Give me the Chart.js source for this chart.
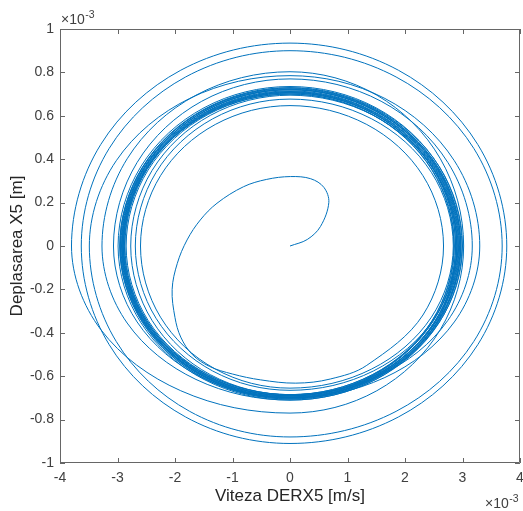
<!DOCTYPE html>
<html>
<head>
<meta charset="utf-8">
<title>Deplasarea X5</title>
<style>
  html, body { margin: 0; padding: 0; background: #ffffff; }
  #wrap { width: 523px; height: 511px; }
</style>
<script src="https://cdn.jsdelivr.net/npm/chart.js@4.4.0/dist/chart.umd.min.js"></script>
</head>
<body>
<div id="wrap"><canvas id="phase" width="523" height="511"></canvas></div>
<script>
// ─────────────────────────────────────────────────────────────
// DATA  (both axes in units of 1e-3)
// ─────────────────────────────────────────────────────────────
const xTicks = [-4, -3, -2, -1, 0, 1, 2, 3, 4];
const xTickLabels = ['-4', '-3', '-2', '-1', '0', '1', '2', '3', '4'];
const yTicks = [-1, -0.8, -0.6, -0.4, -0.2, 0, 0.2, 0.4, 0.6, 0.8, 1];
const yTickLabels = ['-1', '-0.8', '-0.6', '-0.4', '-0.2', '0', '0.2', '0.4', '0.6', '0.8', '1'];

// viteza DERX5 [m/s] x 1e-3
const vitezaX5 = [
  // pornire din repaus
  0, 0.30, 0.53, 0.675, 0.59, 0.36, 0.01, -0.405, -0.81, -1.27, -1.56, -1.79, -1.96, -2.05, -2.00, -1.90, -1.70, -1.40, -1.00, -0.51, 0.10, 0.70,
  1.335, 2.312, 2.67, 2.312, 1.335, 0, -1.30, -2.252, -2.60, -2.252, -1.30, 0,
  1.42, 2.459, 2.84, 2.459, 1.42, 0, -1.345, -2.33, -2.69, -2.33, -1.345, 0,
  1.45, 2.511, 2.90, 2.511, 1.45, 0, -1.385, -2.399, -2.77, -2.399, -1.385, 0,
  1.585, 2.745, 3.17, 2.745, 1.585, 0, -1.535, -2.659, -3.07, -2.659, -1.535, 0,
  1.65, 2.858, 3.30, 2.858, 1.65, 0, -1.745, -3.022, -3.49, -3.022, -1.745, 0,
  1.845, 3.196, 3.69, 3.196, 1.845, 0, -1.815, -3.144, -3.63, -3.144, -1.815, 0,
  1.885, 3.265, 3.77, 3.265, 1.885, 0, -1.90, -3.291, -3.80, -3.291, -1.90, 0,
  1.51, 2.615, 3.02, 2.615, 1.51, 0, -1.635, -2.832, -3.27, -2.832, -1.635, 0,
  // regim stabilizat
  1.495, 2.589, 2.99, 2.589, 1.495, 0, -1.495, -2.589, -2.99, -2.589, -1.495, 0,
  1.485, 2.572, 2.97, 2.572, 1.485, 0, -1.48, -2.563, -2.96, -2.563, -1.48, 0,
  1.475, 2.555, 2.95, 2.555, 1.475, 0, -1.47, -2.546, -2.94, -2.546, -1.47, 0,
  1.465, 2.537, 2.93, 2.537, 1.465, 0, -1.46, -2.529, -2.92, -2.529, -1.46, 0,
  1.455, 2.52, 2.91, 2.52, 1.455, 0, -1.45, -2.511, -2.90, -2.511, -1.45, 0,
  1.44, 2.494, 2.88, 2.494, 1.44, 0, -1.44, -2.494, -2.88, -2.494, -1.44, 0,
  1.43, 2.477, 2.86, 2.477, 1.43, 0, -1.45, -2.511, -2.90, -2.511, -1.45, 0,
  1.47, 2.546, 2.94, 2.546, 1.47, 0, -1.465, -2.537, -2.93, -2.537, -1.465, 0,
  1.50, 2.598, 3.00, 2.598, 1.50, 0, -1.48, -2.563, -2.96, -2.563, -1.48, 0,
  1.48, 2.563, 2.96, 2.563, 1.48, 0, -1.46, -2.529, -2.92, -2.529, -1.46, 0,
  1.45, 2.511, 2.90, 2.511, 1.45, 0, -1.435, -2.485, -2.87, -2.485, -1.435, 0,
  1.425, 2.468, 2.85, 2.468, 1.425, 0, -1.425, -2.468, -2.85, -2.468, -1.425, 0,
  1.44, 2.494, 2.88, 2.494, 1.44, 0, -1.445, -2.503, -2.89, -2.503, -1.445, 0,
  1.46, 2.529, 2.92, 2.529, 1.46, 0, -1.455, -2.52, -2.91, -2.52, -1.455, 0,
  1.485, 2.572, 2.97, 2.572, 1.485, 0, -1.475, -2.555, -2.95, -2.555, -1.475, 0,
  1.475, 2.555, 2.95
];

// deplasarea X5 [m] x 1e-3
const deplasareaX5 = [
  0, 0.03, 0.09, 0.20, 0.27, 0.31, 0.32, 0.307, 0.273, 0.197, 0.12, 0.028, -0.08, -0.20, -0.33, -0.42, -0.50, -0.555, -0.59, -0.617, -0.632, -0.613,
  -0.550, -0.318, 0, 0.324, 0.560, 0.647, 0.560, 0.324, 0, -0.328, -0.567, -0.655,
  -0.567, -0.328, 0, 0.339, 0.586, 0.677, 0.586, 0.339, 0, -0.333, -0.576, -0.665,
  -0.576, -0.333, 0, 0.348, 0.602, 0.695, 0.602, 0.348, 0, -0.343, -0.593, -0.685,
  -0.593, -0.343, 0, 0.385, 0.667, 0.77, 0.667, 0.385, 0, -0.35, -0.606, -0.70,
  -0.606, -0.35, 0, 0.393, 0.68, 0.785, 0.68, 0.393, 0, -0.44, -0.762, -0.88,
  -0.762, -0.44, 0, 0.45, 0.779, 0.90, 0.779, 0.45, 0, -0.455, -0.788, -0.91,
  -0.788, -0.455, 0, 0.468, 0.81, 0.935, 0.81, 0.468, 0, -0.385, -0.667, -0.77,
  -0.667, -0.385, 0, 0.402, 0.695, 0.803, 0.695, 0.402, 0, -0.355, -0.615, -0.71,
  -0.615, -0.355, 0, 0.368, 0.637, 0.735, 0.637, 0.368, 0, -0.355, -0.615, -0.71,
  -0.615, -0.355, 0, 0.363, 0.628, 0.725, 0.628, 0.363, 0, -0.353, -0.611, -0.705,
  -0.611, -0.353, 0, 0.36, 0.624, 0.72, 0.624, 0.36, 0, -0.35, -0.606, -0.70,
  -0.606, -0.35, 0, 0.358, 0.619, 0.715, 0.619, 0.358, 0, -0.348, -0.602, -0.695,
  -0.602, -0.348, 0, 0.355, 0.615, 0.71, 0.615, 0.355, 0, -0.345, -0.598, -0.69,
  -0.598, -0.345, 0, 0.353, 0.611, 0.705, 0.611, 0.353, 0, -0.343, -0.593, -0.685,
  -0.593, -0.343, 0, 0.35, 0.606, 0.70, 0.606, 0.35, 0, -0.345, -0.598, -0.69,
  -0.598, -0.345, 0, 0.36, 0.624, 0.72, 0.624, 0.36, 0, -0.35, -0.606, -0.70,
  -0.606, -0.35, 0, 0.365, 0.632, 0.73, 0.632, 0.365, 0, -0.353, -0.611, -0.705,
  -0.611, -0.353, 0, 0.361, 0.625, 0.722, 0.625, 0.361, 0, -0.35, -0.606, -0.70,
  -0.606, -0.35, 0, 0.353, 0.611, 0.705, 0.611, 0.353, 0, -0.345, -0.598, -0.69,
  -0.598, -0.345, 0, 0.35, 0.606, 0.70, 0.606, 0.35, 0, -0.343, -0.593, -0.685,
  -0.593, -0.343, 0, 0.354, 0.613, 0.708, 0.613, 0.354, 0, -0.346, -0.599, -0.692,
  -0.599, -0.346, 0, 0.356, 0.617, 0.712, 0.617, 0.356, 0, -0.348, -0.603, -0.696,
  -0.603, -0.348, 0, 0.364, 0.63, 0.728, 0.63, 0.364, 0, -0.35, -0.606, -0.70,
  -0.606, -0.35, 0
];

// ─────────────────────────────────────────────────────────────
// STYLE
// ─────────────────────────────────────────────────────────────
const FONT = "'Liberation Sans', Arial, Helvetica, sans-serif";
const AXIS_COLOR = '#666666';
const TEXT_COLOR = '#404040';
const TITLE_COLOR = '#262626';
const LINE_COLOR = '#0072bd';

// ─────────────────────────────────────────────────────────────
// PLUGIN: box, inward ticks, x10^-3 exponent labels
// ─────────────────────────────────────────────────────────────
const matlabAxes = {
  id: 'matlabAxes',
  afterDatasetsDraw(chart) {
    const { ctx, chartArea: a, scales: { x, y } } = chart;
    const tick = 5;
    ctx.save();
    ctx.strokeStyle = AXIS_COLOR;
    ctx.lineWidth = 1;
    ctx.beginPath();
    ctx.rect(a.left + 0.5, a.top + 0.5, a.right - a.left - 1, a.bottom - a.top - 1);

    xTicks.forEach(v => {
      const px = Math.round(x.getPixelForValue(v)) + 0.5;
      ctx.moveTo(px, a.bottom);
      ctx.lineTo(px, a.bottom - tick);
      ctx.moveTo(px, a.top);
      ctx.lineTo(px, a.top + tick);
    });
    yTicks.forEach(v => {
      const py = Math.round(y.getPixelForValue(v)) + 0.5;
      ctx.moveTo(a.left, py);
      ctx.lineTo(a.left + tick, py);
      ctx.moveTo(a.right, py);
      ctx.lineTo(a.right - tick, py);
    });
    ctx.stroke();

    // exponent labels
    const expo = (left, base) => {
      ctx.fillStyle = TEXT_COLOR;
      ctx.textAlign = 'left';
      ctx.textBaseline = 'alphabetic';
      ctx.font = `14px ${FONT}`;
      const main = '\u00d710';
      ctx.fillText(main, left, base);
      const w = ctx.measureText(main).width;
      ctx.font = `10.5px ${FONT}`;
      ctx.fillText('-3', left + w + 0.5, base - 6);
    };
    expo(a.left + 1, a.top - 5);
    expo(485, 508);
    ctx.restore();
  }
};

// ─────────────────────────────────────────────────────────────
// CHART
// ─────────────────────────────────────────────────────────────
const points = vitezaX5.map((v, i) => ({ x: v, y: deplasareaX5[i] }));

new Chart(document.getElementById('phase'), {
  type: 'scatter',
  data: {
    datasets: [{
      data: points,
      showLine: true,
      borderColor: LINE_COLOR,
      borderWidth: 1,
      pointRadius: 0,
      pointHoverRadius: 0,
      tension: 0.35,
      fill: false,
    }]
  },
  options: {
    responsive: false,
    animation: false,
    devicePixelRatio: 1,
    layout: { padding: { top: 29, right: 3, left: 0, bottom: 0 } },
    plugins: {
      legend: { display: false },
      tooltip: { enabled: false },
    },
    events: [],
    scales: {
      x: {
        type: 'linear',
        min: -4,
        max: 4,
        afterBuildTicks: s => { s.ticks = xTicks.map(v => ({ value: v })); },
        afterFit: s => {
          s.height = 48;
          s.paddingLeft = 0;
          s.paddingRight = 0;
        },
        ticks: {
          autoSkip: false,
          maxRotation: 0,
          padding: 7,
          color: TEXT_COLOR,
          font: { family: FONT, size: 14 },
          callback: v => xTickLabels[xTicks.indexOf(v)],
        },
        grid: { display: false, drawTicks: false },
        border: { display: false },
        title: {
          display: true,
          text: 'Viteza DERX5 [m/s]',
          color: TITLE_COLOR,
          font: { family: FONT, size: 17 },
          padding: { top: 0, bottom: 4 },
        },
      },
      y: {
        type: 'linear',
        min: -1,
        max: 1,
        afterBuildTicks: s => { s.ticks = yTicks.map(v => ({ value: v })); },
        afterFit: s => {
          s.width = 60;
          s.paddingTop = 0;
          s.paddingBottom = 0;
        },
        ticks: {
          autoSkip: false,
          padding: 6,
          color: TEXT_COLOR,
          font: { family: FONT, size: 14 },
          callback: v => yTickLabels[yTicks.findIndex(t => Math.abs(t - v) < 1e-9)],
        },
        grid: { display: false, drawTicks: false },
        border: { display: false },
        title: {
          display: true,
          text: 'Deplasarea X5 [m]',
          color: TITLE_COLOR,
          font: { family: FONT, size: 17 },
          padding: { top: 7, bottom: 0 },
        },
      },
    },
  },
  plugins: [matlabAxes],
});
</script>
</body>
</html>
